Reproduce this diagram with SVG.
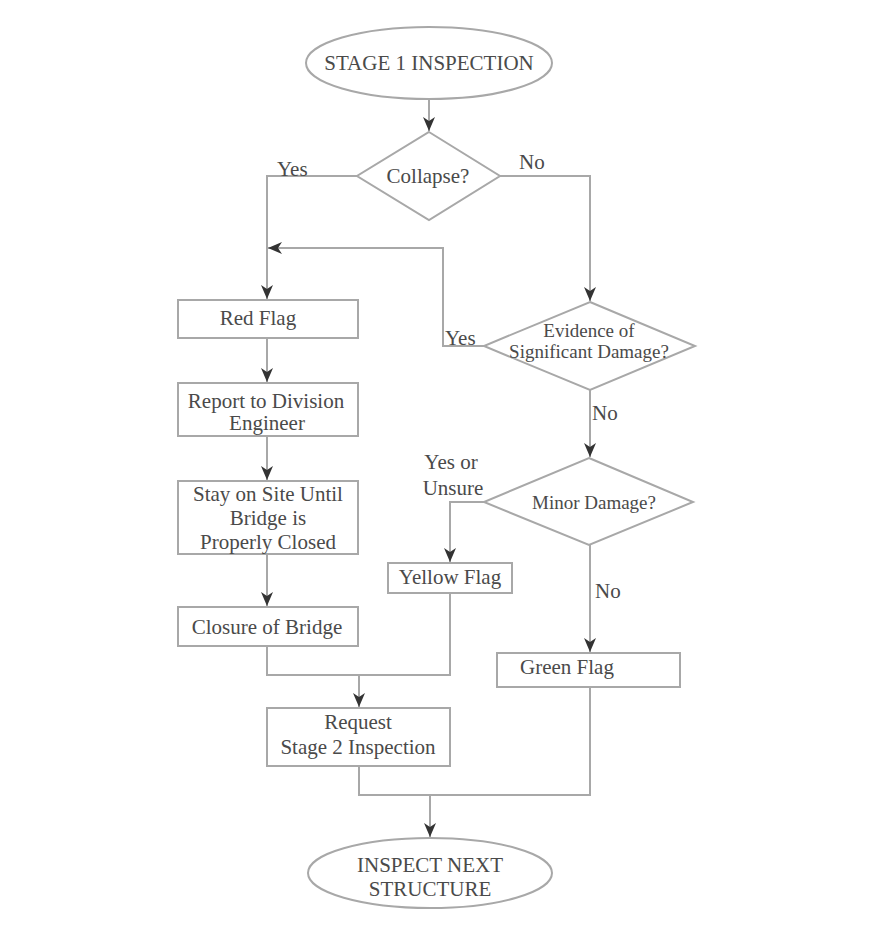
<svg xmlns="http://www.w3.org/2000/svg" width="880" height="926" viewBox="0 0 880 926">
<defs>
<marker id="arr" viewBox="0 0 14 12" refX="14" refY="6" markerWidth="14" markerHeight="12" markerUnits="userSpaceOnUse" orient="auto">
<path d="M0,0 L14,6 L0,12 L4,6 z" fill="#333"/>
</marker>
<style>
.shape{fill:#fff;stroke:#a8a8a8;stroke-width:2}
.ln{fill:none;stroke:#a8a8a8;stroke-width:2}
.ar{marker-end:url(#arr)}
text{font-family:"Liberation Serif","Times New Roman",serif;font-size:21px;fill:#4a4a4a;text-anchor:middle;dominant-baseline:central}
.lbl{text-anchor:start}
.sm{font-size:19px}
</style>
</defs>
<rect width="880" height="926" fill="#fff"/>
<g id="connectors">
<path class="ln ar" d="M429,99 V131"/>
<path class="ln ar" d="M357,176 H267 V299"/>
<path class="ln ar" d="M500,176 H590 V301"/>
<path class="ln ar" d="M484,346 H443 V248 H268"/>
<path class="ln ar" d="M267,338 V382"/>
<path class="ln ar" d="M267,436 V480"/>
<path class="ln ar" d="M267,554 V606"/>
<path class="ln ar" d="M590,390 V457"/>
<path class="ln ar" d="M484,502 H450 V562"/>
<path class="ln ar" d="M590,545 V652"/>
<path class="ln" d="M267,646 V675 H450 V593"/>
<path class="ln ar" d="M359,675 V707"/>
<path class="ln" d="M359,766 V795 H590 V687"/>
<path class="ln ar" d="M430,795 V837"/>
<text class="lbl" x="277" y="169">Yes</text>
<text class="lbl" x="519" y="162">No</text>
<text class="lbl" x="445" y="338">Yes</text>
<text class="lbl" x="592" y="413">No</text>
<text x="451" y="462">Yes or</text>
<text x="453" y="488">Unsure</text>
<text class="lbl" x="595" y="591">No</text>
</g>
<g id="start">
<ellipse class="shape" cx="429" cy="63" rx="123" ry="36"/>
<text x="429" y="63">STAGE 1 INSPECTION</text>
</g>
<g id="collapse">
<polygon class="shape" points="429,132 500,176 429,220 357,176"/>
<text x="428" y="176">Collapse?</text>
</g>
<g id="evidence">
<polygon class="shape" points="590,302 695,346 590,390 484,346"/>
<text class="sm" x="589" y="330">Evidence of</text>
<text class="sm" x="589" y="351">Significant Damage?</text>
</g>
<g id="minor">
<polygon class="shape" points="589,458 693,502 589,545 484,502"/>
<text class="sm" x="594" y="502">Minor Damage?</text>
</g>
<g id="red-flag">
<rect class="shape" x="178" y="300" width="180" height="38"/>
<text x="258" y="318">Red Flag</text>
</g>
<g id="report">
<rect class="shape" x="178" y="383" width="180" height="53"/>
<text x="266" y="401">Report to Division</text>
<text x="267" y="423">Engineer</text>
</g>
<g id="stay">
<rect class="shape" x="178" y="481" width="180" height="73"/>
<text x="268" y="494">Stay on Site Until</text>
<text x="268" y="518">Bridge is</text>
<text x="268" y="542">Properly Closed</text>
</g>
<g id="closure">
<rect class="shape" x="178" y="607" width="180" height="39"/>
<text x="267" y="627">Closure of Bridge</text>
</g>
<g id="yellow-flag">
<rect class="shape" x="388" y="563" width="124" height="30"/>
<text x="450" y="577">Yellow Flag</text>
</g>
<g id="green-flag">
<rect class="shape" x="497" y="653" width="183" height="34"/>
<text x="567" y="667">Green Flag</text>
</g>
<g id="request">
<rect class="shape" x="267" y="708" width="183" height="58"/>
<text x="358" y="722">Request</text>
<text x="358" y="747">Stage 2 Inspection</text>
</g>
<g id="end">
<ellipse class="shape" cx="430" cy="873" rx="122" ry="35"/>
<text x="430" y="865">INSPECT NEXT</text>
<text x="430" y="889">STRUCTURE</text>
</g>
</svg>
